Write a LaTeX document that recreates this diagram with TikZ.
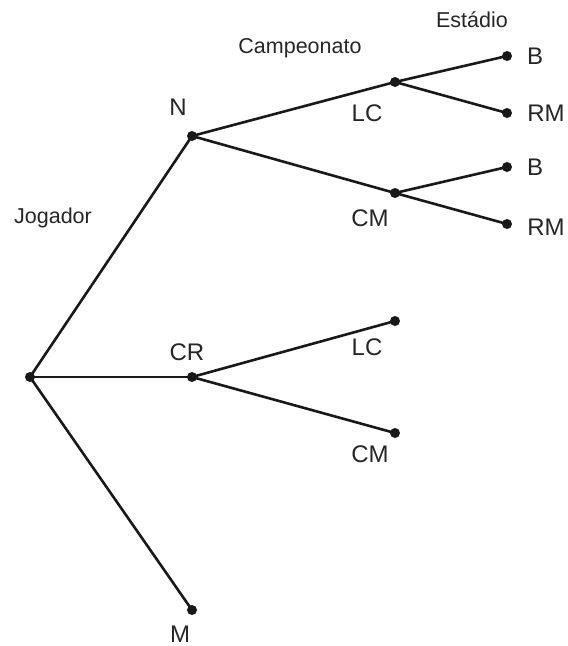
\documentclass[tikz,border=0pt]{standalone}
\usepackage{fontspec}
\setmainfont{Liberation Sans}
\begin{document}
\begin{tikzpicture}[x=1pt,y=-1pt,
  dot/.style={circle,fill=black!90,inner sep=0pt,minimum size=10pt},
  lbl/.style={inner sep=0pt,font=\fontsize{24}{28}\selectfont,text=black!85},
  hdr/.style={inner sep=0pt,font=\fontsize{21.5}{25}\selectfont,text=black!85},
  edge/.style={line width=2.6pt,draw=black!90}]
\useasboundingbox[fill=white] (0,0) rectangle (568,646);
% dots
\node[dot] (root) at (30,377) {};
\node[dot] (N) at (192,136) {};
\node[dot] (CR) at (192,377) {};
\node[dot] (M) at (192,610) {};
\node[dot] (LC1) at (395,82) {};
\node[dot] (CM1) at (395,193) {};
\node[dot] (B1) at (507,56) {};
\node[dot] (RM1) at (507,113) {};
\node[dot] (B2) at (507,167) {};
\node[dot] (RM2) at (507,224) {};
\node[dot] (LC2) at (395,321) {};
\node[dot] (CM2) at (395,433) {};
% edges
\draw[edge] (root.center) -- (N.center);
\draw[edge] (root.center) -- (CR.center);
\draw[edge] (root.center) -- (M.center);
\draw[edge] (N.center) -- (LC1.center);
\draw[edge] (N.center) -- (CM1.center);
\draw[edge] (LC1.center) -- (B1.center);
\draw[edge] (LC1.center) -- (RM1.center);
\draw[edge] (CM1.center) -- (B2.center);
\draw[edge] (CM1.center) -- (RM2.center);
\draw[edge] (CR.center) -- (LC2.center);
\draw[edge] (CR.center) -- (CM2.center);
% labels
\node[lbl] (tN) at (178,107) {N};
\node[lbl] (tCR) at (187,352) {CR};
\node[lbl] (tM) at (180,634) {M};
\node[lbl] (tLC1) at (367,113) {LC};
\node[lbl] (tCM1) at (370,218) {CM};
\node[lbl] (tB1) at (535,56) {B};
\node[lbl] (tRM1) at (546,113) {RM};
\node[lbl] (tB2) at (535,167) {B};
\node[lbl] (tRM2) at (546,227) {RM};
\node[lbl] (tLC2) at (367,347) {LC};
\node[lbl] (tCM2) at (370,454) {CM};
\node[hdr] (tJ) at (53,218) {Jogador};
\node[hdr] (tC) at (300,48) {Campeonato};
\node[hdr] (tE) at (472,20) {Estádio};
\end{tikzpicture}
\end{document}
